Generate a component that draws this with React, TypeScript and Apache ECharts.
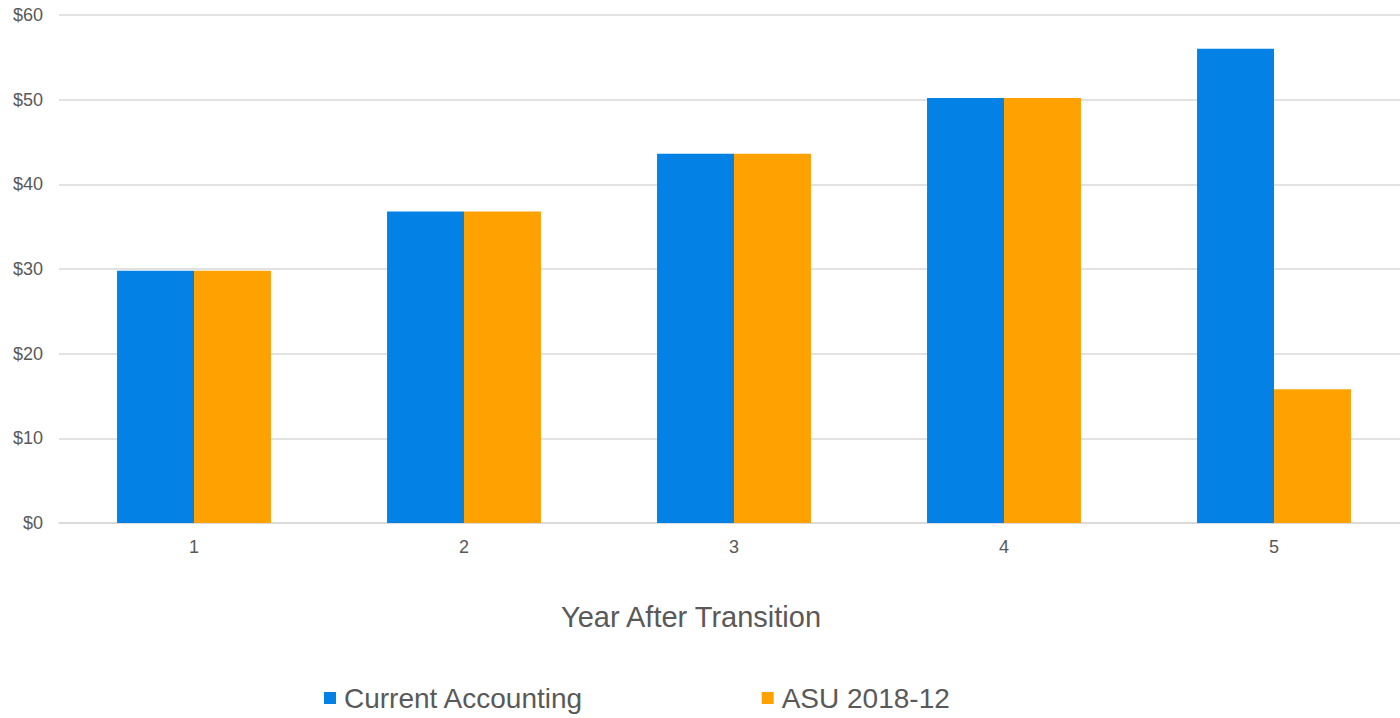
import React, { useEffect, useRef } from "react";
import * as echarts from "echarts";

// Year after transition and the two accounting series (in dollars)
const years = ["1", "2", "3", "4", "5"];
const currentAccounting = [29.8, 36.8, 43.6, 50.2, 56.0];
const asu201812 = [29.8, 36.8, 43.6, 50.2, 15.8];
const yTicks = { min: 0, max: 60, interval: 10 };

const TEXT = "#595959";
const GRID = "#d9d9d9";
const FONT = "'Liberation Sans', Arial, sans-serif";

export default function App() {
  const ref = useRef<HTMLDivElement>(null);

  useEffect(() => {
    if (!ref.current) return;
    const chart = echarts.init(ref.current, undefined, { renderer: "svg" });
    chart.setOption({
      animation: false,
      backgroundColor: "#ffffff",
      textStyle: { fontFamily: FONT },
      grid: {
        left: 59,
        width: 1350,
        top: 15,
        bottom: 195,
        containLabel: false,
        outerBoundsMode: "none",
      },
      legend: {
        left: 324,
        top: 684,
        padding: 0,
        itemWidth: 12,
        itemHeight: 12,
        itemGap: 178,
        icon: "rect",
        textStyle: { color: TEXT, fontSize: 28, fontFamily: FONT, padding: [0, 0, 0, 3] },
        data: ["Current Accounting", "ASU 2018-12"],
      },
      graphic: [
        {
          type: "text",
          x: 691,
          y: 617,
          style: {
            text: "Year After Transition",
            fill: TEXT,
            font: `29px ${FONT}`,
            textAlign: "center",
            textVerticalAlign: "middle",
          },
        },
      ],
      xAxis: {
        type: "category",
        data: years,
        axisLine: { show: true, lineStyle: { color: GRID, width: 1.5 } },
        axisTick: { show: false },
        axisLabel: { color: TEXT, fontSize: 18, margin: 15, fontFamily: FONT },
      },
      yAxis: {
        type: "value",
        min: yTicks.min,
        max: yTicks.max,
        interval: yTicks.interval,
        axisLine: { show: false },
        axisTick: { show: false },
        splitLine: { lineStyle: { color: GRID, width: 1.5 } },
        axisLabel: {
          color: TEXT,
          fontSize: 18,
          margin: 16,
          fontFamily: FONT,
          formatter: (v: number) => `$${v}`,
        },
      },
      series: [
        {
          name: "Current Accounting",
          type: "bar",
          data: currentAccounting,
          itemStyle: { color: "#0381e5" },
          barGap: "0%",
          barCategoryGap: "43%",
        },
        {
          name: "ASU 2018-12",
          type: "bar",
          data: asu201812,
          itemStyle: { color: "#ffa100" },
          barGap: "0%",
          barCategoryGap: "43%",
        },
      ],
    });
    return () => chart.dispose();
  }, []);

  return (
    <div
      ref={ref}
      style={{ position: "absolute", left: 0, top: 0, width: 1400, height: 718 }}
    />
  );
}
